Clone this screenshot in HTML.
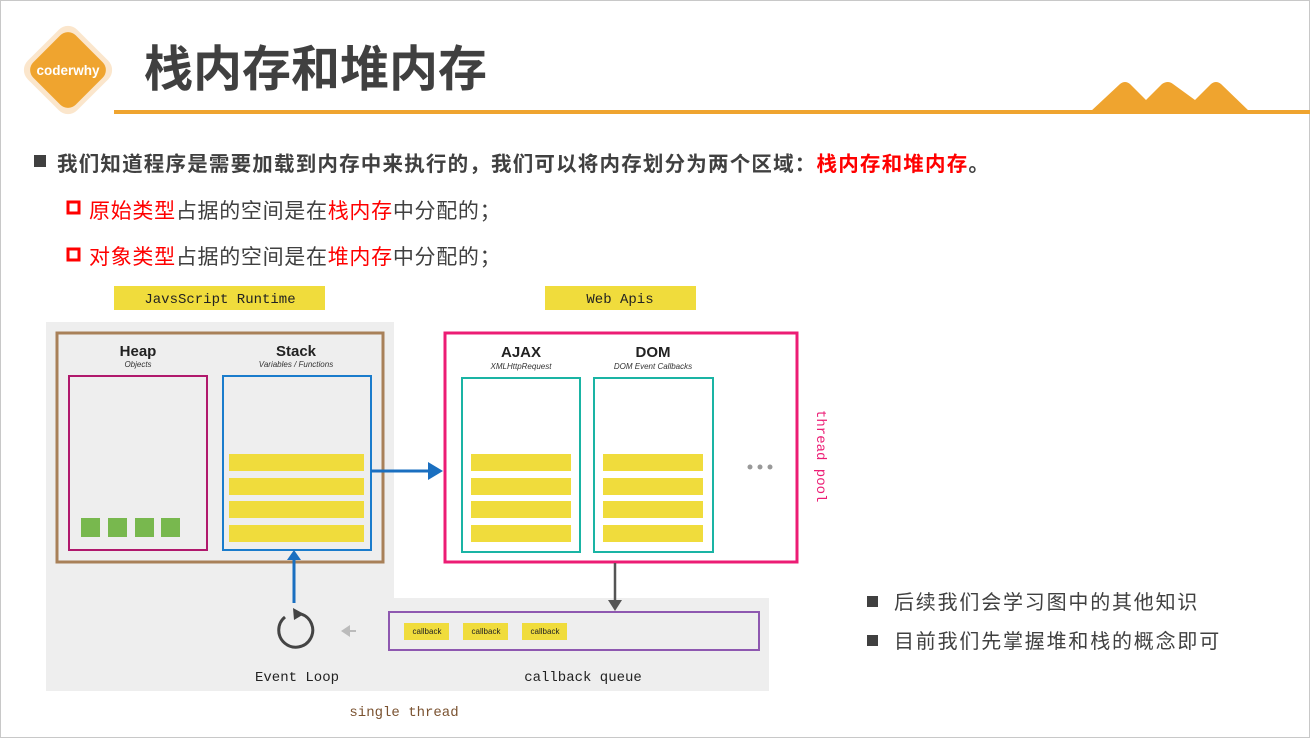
<!DOCTYPE html>
<html><head><meta charset="utf-8"><style>
html,body{margin:0;padding:0;background:#fff}
body{width:1311px;height:739px;overflow:hidden}
svg text{font-family:"Liberation Sans","Noto Sans CJK SC",sans-serif}
.m{font-family:"Liberation Mono","DejaVu Sans Mono",monospace}
</style></head><body>
<svg width="1311" height="739" viewBox="0 0 1311 739" xmlns="http://www.w3.org/2000/svg">
<rect x="0.5" y="0.5" width="1309" height="737" fill="#fff" stroke="#c8c8c8"/>
<!-- logo -->
<g transform="translate(68,70) rotate(45)">
<rect x="-35" y="-35" width="70" height="70" rx="13" fill="#fbe6cc"/>
<rect x="-30" y="-30" width="60" height="60" rx="11" fill="#efa42f"/>
</g>
<text x="68" y="75" font-size="13.5" font-weight="bold" fill="#fff" text-anchor="middle">coderwhy</text>
<text x="144" y="86" font-size="49" font-weight="bold" fill="#404040">栈内存和堆内存</text>
<rect x="114" y="110" width="1196" height="4" fill="#efa42f"/>
<path d="M1090 112 L1120 84 Q1125 80 1130 84 L1146 100 L1162 84 Q1168 80 1173 84 L1195 100 L1211 84 Q1216 80 1221 84 L1250 112 Z" fill="#efa42f"/>
<!-- bullets -->
<rect x="34" y="155" width="12" height="12" fill="#404040"/>
<text x="57" y="171" font-size="20.5" font-weight="bold" fill="#404040" letter-spacing="1.2">我们知道程序是需要加载到内存中来执行的，我们可以将内存划分为两个区域：<tspan fill="#ff0000">栈内存和堆内存</tspan>。</text>
<rect x="68" y="202" width="11" height="11" fill="none" stroke="#ff0000" stroke-width="3"/>
<text x="89" y="218" font-size="21" fill="#404040" letter-spacing="0.7"><tspan fill="#ff0000">原始类型</tspan>占据的空间是在<tspan fill="#ff0000">栈内存</tspan>中分配的；</text>
<rect x="68" y="249" width="11" height="11" fill="none" stroke="#ff0000" stroke-width="3"/>
<text x="89" y="264" font-size="21" fill="#404040" letter-spacing="0.7"><tspan fill="#ff0000">对象类型</tspan>占据的空间是在<tspan fill="#ff0000">堆内存</tspan>中分配的；</text>
<!-- labels -->
<rect x="114" y="286" width="211" height="24" fill="#f0dc3c"/>
<text x="220" y="303" class="m" font-size="14" text-anchor="middle" fill="#222">JavsScript Runtime</text>
<rect x="545" y="286" width="151" height="24" fill="#f0dc3c"/>
<text x="620" y="303" class="m" font-size="14" text-anchor="middle" fill="#222">Web Apis</text>
<!-- grey areas -->
<rect x="46" y="322" width="348" height="369" fill="#eeeeee"/>
<rect x="46" y="598" width="723" height="93" fill="#eeeeee"/>
<!-- runtime box -->
<rect x="57" y="333" width="326" height="229" fill="none" stroke="#a88058" stroke-width="3"/>
<text x="138" y="356" font-size="15" font-weight="bold" text-anchor="middle" fill="#222">Heap</text>
<text x="138" y="367" font-size="8" font-style="italic" text-anchor="middle" fill="#333">Objects</text>
<text x="296" y="356" font-size="15" font-weight="bold" text-anchor="middle" fill="#222">Stack</text>
<text x="296" y="367" font-size="8" font-style="italic" text-anchor="middle" fill="#333">Variables / Functions</text>
<rect x="69" y="376" width="138" height="174" fill="none" stroke="#b0186c" stroke-width="2"/>
<rect x="81" y="518" width="19" height="19" fill="#78b84e"/>
<rect x="108" y="518" width="19" height="19" fill="#78b84e"/>
<rect x="135" y="518" width="19" height="19" fill="#78b84e"/>
<rect x="161" y="518" width="19" height="19" fill="#78b84e"/>
<rect x="223" y="376" width="148" height="174" fill="none" stroke="#1a7ccc" stroke-width="2"/>
<rect x="229" y="454" width="135" height="17" fill="#f0dc3c"/>
<rect x="229" y="478" width="135" height="17" fill="#f0dc3c"/>
<rect x="229" y="501" width="135" height="17" fill="#f0dc3c"/>
<rect x="229" y="525" width="135" height="17" fill="#f0dc3c"/>
<!-- arrow to web apis -->
<line x1="371" y1="471" x2="430" y2="471" stroke="#1a6fc0" stroke-width="3"/>
<path d="M428 462 L443 471 L428 480 Z" fill="#1a6fc0"/>
<!-- web apis -->
<rect x="445" y="333" width="352" height="229" fill="none" stroke="#ec1c74" stroke-width="3"/>
<text x="521" y="357" font-size="15" font-weight="bold" text-anchor="middle" fill="#222">AJAX</text>
<text x="521" y="369" font-size="8" font-style="italic" text-anchor="middle" fill="#333">XMLHttpRequest</text>
<text x="653" y="357" font-size="15" font-weight="bold" text-anchor="middle" fill="#222">DOM</text>
<text x="653" y="369" font-size="8" font-style="italic" text-anchor="middle" fill="#333">DOM Event Callbacks</text>
<rect x="462" y="378" width="118" height="174" fill="none" stroke="#1ab4a4" stroke-width="2"/>
<rect x="594" y="378" width="119" height="174" fill="none" stroke="#1ab4a4" stroke-width="2"/>
<g fill="#f0dc3c">
<rect x="471" y="454" width="100" height="17"/><rect x="471" y="478" width="100" height="17"/><rect x="471" y="501" width="100" height="17"/><rect x="471" y="525" width="100" height="17"/>
<rect x="603" y="454" width="100" height="17"/><rect x="603" y="478" width="100" height="17"/><rect x="603" y="501" width="100" height="17"/><rect x="603" y="525" width="100" height="17"/>
</g>
<circle cx="750" cy="467" r="2.5" fill="#999"/><circle cx="760" cy="467" r="2.5" fill="#999"/><circle cx="770" cy="467" r="2.5" fill="#999"/>
<text class="m" font-size="14" fill="#ec1c74" transform="translate(817,410) rotate(90)">thread pool</text>
<!-- down arrow -->
<line x1="615" y1="563" x2="615" y2="602" stroke="#555" stroke-width="2.5"/>
<path d="M608 600 L615 611 L622 600 Z" fill="#555"/>
<!-- callback queue -->
<rect x="389" y="612" width="370" height="38" fill="none" stroke="#8e58b0" stroke-width="2"/>
<g fill="#f0dc3c"><rect x="404" y="623" width="45" height="17"/><rect x="463" y="623" width="45" height="17"/><rect x="522" y="623" width="45" height="17"/></g>
<g font-size="8" fill="#222" text-anchor="middle"><text x="427" y="634">callback</text><text x="486" y="634">callback</text><text x="545" y="634">callback</text></g>
<text x="583" y="681" class="m" font-size="14" text-anchor="middle" fill="#222">callback queue</text>
<!-- event loop -->
<line x1="356" y1="631" x2="346" y2="631" stroke="#bbb" stroke-width="2"/>
<path d="M350 625 L341 631 L350 637 Z" fill="#bbb"/>
<path d="M285 617 A17 17 0 1 0 301 614" fill="none" stroke="#444" stroke-width="3"/>
<path d="M293 608 L304 614 L294 620 Z" fill="#444"/>
<line x1="294" y1="603" x2="294" y2="556" stroke="#1a6fc0" stroke-width="3"/>
<path d="M287 560 L294 550 L301 560 Z" fill="#1a6fc0"/>
<text x="297" y="681" class="m" font-size="14" text-anchor="middle" fill="#222">Event Loop</text>
<text x="404" y="716" class="m" font-size="14" text-anchor="middle" fill="#7a5230">single thread</text>
<!-- right bullets -->
<rect x="867" y="596" width="11" height="11" fill="#404040"/>
<text x="894" y="609" font-size="20" fill="#404040" letter-spacing="1.8">后续我们会学习图中的其他知识</text>
<rect x="867" y="635" width="11" height="11" fill="#404040"/>
<text x="894" y="648" font-size="20" fill="#404040" letter-spacing="1.8">目前我们先掌握堆和栈的概念即可</text>
</svg>
</body></html>
